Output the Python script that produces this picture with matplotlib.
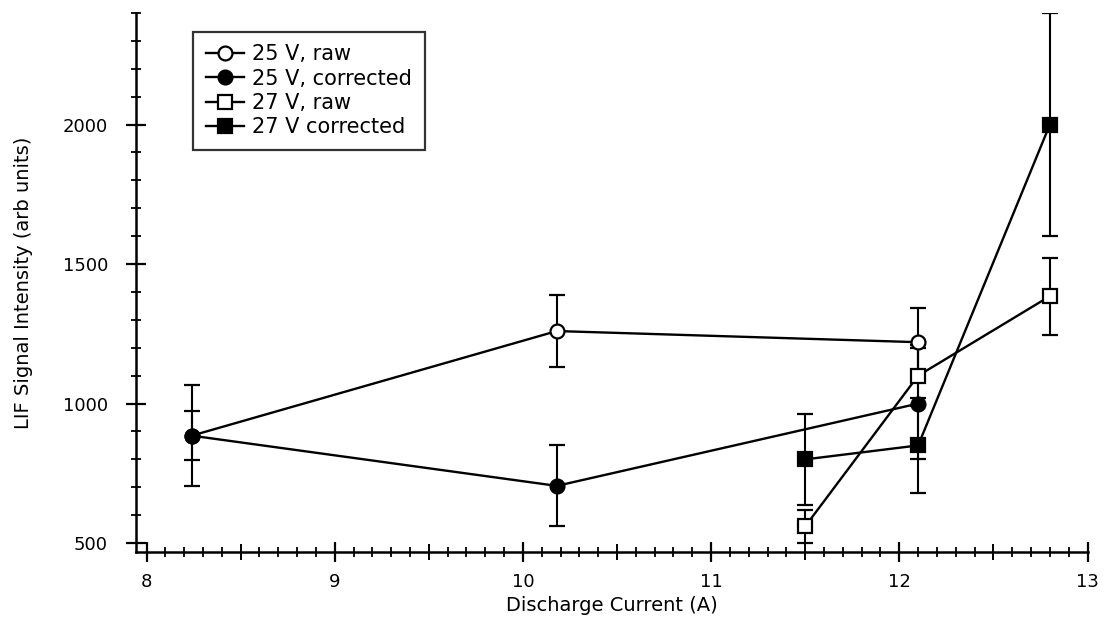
import matplotlib
matplotlib.use("Agg")
import matplotlib.pyplot as plt
from matplotlib.ticker import FixedLocator
import numpy as np

# Discharge current (A) and LIF signal intensity (arb units)
current_25v = [8.24, 10.18, 12.10]
raw_25v = [885, 1260, 1220]
raw_25v_err = [88, 130, 122]
corr_25v = [885, 705, 1000]
corr_25v_err = [180, 145, 200]

current_27v = [11.50, 12.10, 12.80]
raw_27v = [560, 1100, 1385]
raw_27v_err = [60, 110, 138]
corr_27v = [800, 850, 2000]
corr_27v_err = [162, 170, 400]

labels = ["25 V, raw", "25 V, corrected", "27 V, raw", "27 V corrected"]

x_major = [8, 9, 10, 11, 12, 13]
x_half = [8.5, 9.5, 10.5, 11.5, 12.5]
y_major = [500, 1000, 1500, 2000]

plt.rcParams['font.family'] = ['DejaVu Sans']

W, H = 1104, 642
fig = plt.figure(figsize=(W / 100, H / 100), dpi=100)
ax = fig.add_axes([136 / W, 1 - 552 / H, (1087.5 - 136) / W, (552 - 13) / H])

series = [
    (current_25v, raw_25v, raw_25v_err, 'o', 'white', 10),
    (current_25v, corr_25v, corr_25v_err, 'o', 'black', 10),
    (current_27v, raw_27v, raw_27v_err, 's', 'white', 9.5),
    (current_27v, corr_27v, corr_27v_err, 's', 'black', 9.5),
]

for (x, y, e, m, fc, ms), lab in zip(series, labels):
    ax.errorbar(x, y, yerr=e, fmt='none', ecolor='black', elinewidth=1.5,
                capsize=5.8, capthick=1.6, zorder=2)
    ax.plot(x, y, color='black', lw=1.7, marker=m, markersize=ms,
            markerfacecolor=fc, markeredgecolor='black', markeredgewidth=1.6,
            label=lab, zorder=3)

ax.set_xlim(7.944, 13.0)
ax.set_ylim(468, 2400)

for s in ['top', 'right']:
    ax.spines[s].set_visible(False)
for s in ['left', 'bottom']:
    ax.spines[s].set_linewidth(1.8)

ax.xaxis.set_major_locator(FixedLocator(x_major))
ax.xaxis.set_minor_locator(FixedLocator(np.round(np.arange(8.1, 13.0, 0.1), 2)))
ax.yaxis.set_major_locator(FixedLocator(y_major))
ax.yaxis.set_minor_locator(FixedLocator(np.arange(600, 2401, 100)))

ax.tick_params(axis='both', which='major', direction='inout', length=14.4,
               width=1.6, labelsize=13)
ax.tick_params(axis='x', which='major', pad=8)
ax.tick_params(axis='y', which='major', pad=13)
ax.tick_params(axis='both', which='minor', direction='inout', length=7.5,
               width=1.3)

# half-amp ticks on the current axis
half = ax.secondary_xaxis(0)
half.set_xticks(x_half)
half.tick_params(direction='inout', length=11, width=1.4, labelbottom=False)
half.spines['bottom'].set_visible(False)

ax.set_xlabel("Discharge Current (A)", fontsize=14)
ax.set_ylabel("LIF Signal Intensity (arb units)", fontsize=14)
ax.xaxis.set_label_coords(0.5, -(596 - 552) / (552 - 13))
ax.yaxis.set_label_coords(-(136 - 33) / (1087.5 - 136), 0.5)

leg = ax.legend(loc='upper left', bbox_to_anchor=(193 / W, 1 - 32 / H),
                bbox_transform=fig.transFigure, fontsize=15, frameon=True,
                fancybox=False, edgecolor='black', handlelength=1.85,
                handletextpad=0.4, labelspacing=0.2, borderpad=0.6,
                borderaxespad=0)
leg.get_frame().set_linewidth(1.6)

fig.savefig("out.png", dpi=100, facecolor='white')
